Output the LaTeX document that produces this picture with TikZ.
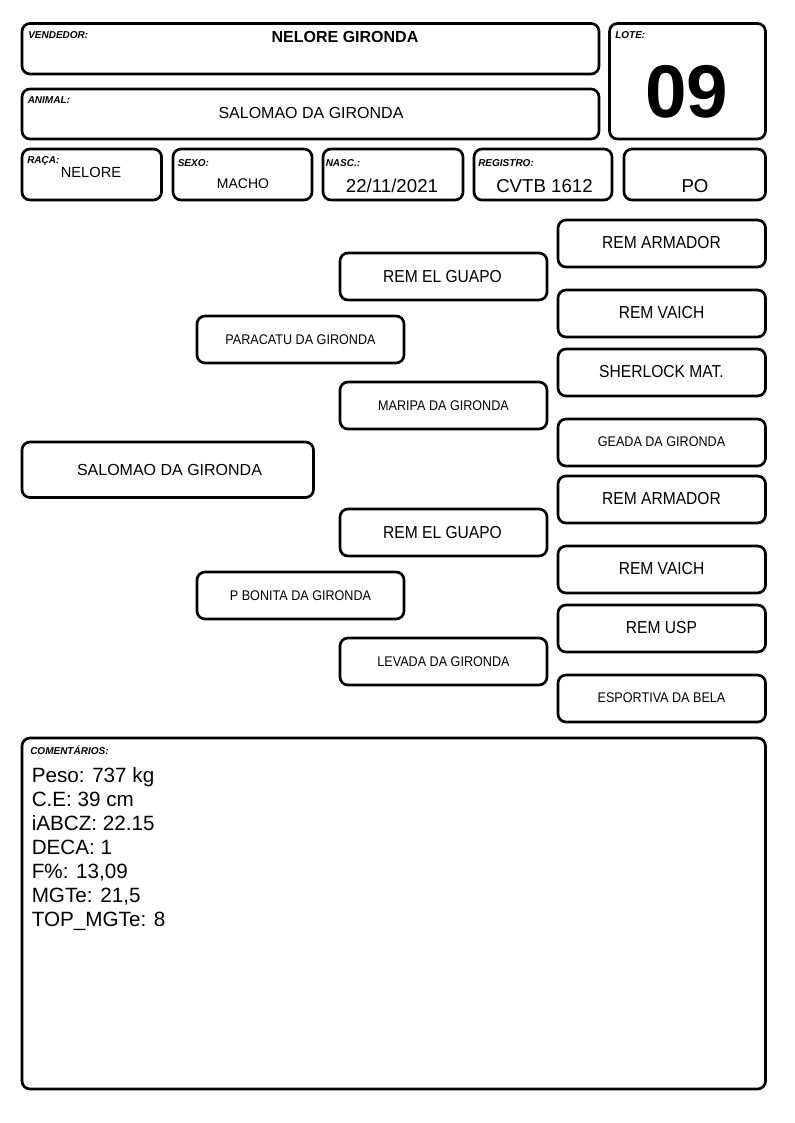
\documentclass[tikz,border=0pt]{standalone}
\usepackage{fontspec}
\setmainfont{Liberation Sans}
\newfontfamily\estreita[FakeStretch=0.9]{Liberation Sans}

\tikzset{
  caixa/.style={line width=2pt, rounded corners=6pt},
  rotulo/.style={anchor=north west, inner sep=0pt, font=\fontsize{7.5}{9}\selectfont\bfseries\itshape},
  grande/.style={font=\estreita\fontsize{13}{15}\selectfont},
  pequeno/.style={font=\estreita\fontsize{10.5}{12}\selectfont},
}

\begin{document}
\begin{tikzpicture}[x=0.75pt, y=-0.75pt]
  \useasboundingbox (0,0) rectangle (794,1123);

  % cabecalho
  \draw[caixa] (22,23.5) rectangle (599,74);
  \node[rotulo] (vendedor) at (28,31.5) {VENDEDOR:};
  \node[font=\fontsize{12}{14}\selectfont\bfseries] (nomevendedor) at (345,37) {NELORE GIRONDA};

  \draw[caixa] (22,89) rectangle (599,139);
  \node[rotulo] (animallabel) at (27.5,96.5) {ANIMAL:};
  \node[font=\fontsize{12}{14}\selectfont] (nomeanimal) at (311,113) {SALOMAO DA GIRONDA};

  \draw[caixa] (609.5,23.5) rectangle (765.5,139);
  \node[rotulo] (lote) at (615,31.5) {LOTE:};
  \node[font=\fontsize{56}{60}\selectfont\bfseries] (numlote) at (687,92) {09};

  % dados
  \draw[caixa] (22,149) rectangle (161.5,200);
  \node[rotulo] (raca) at (27,156.5) {RAÇA:};
  \node[font=\fontsize{11}{13}\selectfont] (valraca) at (91,172.5) {NELORE};

  \draw[caixa] (173,149) rectangle (312,200);
  \node[rotulo] (sexo) at (177.5,159) {SEXO:};
  \node[font=\fontsize{10.5}{12}\selectfont] (valsexo) at (243,184) {MACHO};

  \draw[caixa] (323,149) rectangle (463,200);
  \node[rotulo] (nasc) at (325.5,159) {NASC.:};
  \node[font=\fontsize{14}{16}\selectfont] (valnasc) at (392,186) {22/11/2021};

  \draw[caixa] (474,149) rectangle (612,200);
  \node[rotulo] (registro) at (478,159) {REGISTRO:};
  \node[font=\fontsize{14}{16}\selectfont] (valregistro) at (544.5,186) {CVTB 1612};

  \draw[caixa] (624,149) rectangle (765.5,200);
  \node[font=\fontsize{14}{16}\selectfont] (valpo) at (695,186.5) {PO};

  % genealogia
  \draw[caixa] (22,442) rectangle (313.5,497.5);
  \node[font=\fontsize{12}{14}\selectfont] (animal) at (169.5,470) {SALOMAO DA GIRONDA};

  \begin{scope}
    \draw[caixa] (197,316) rectangle (404,363);
    \node[pequeno] (pai) at (300.5,339.5) {PARACATU DA GIRONDA};
    \draw[caixa] (340,253) rectangle (547,300);
    \node[grande] (avopat) at (442.5,276.5) {REM EL GUAPO};
    \draw[caixa] (340,382) rectangle (547,429);
    \node[pequeno] (avapat) at (443.5,405.5) {MARIPA DA GIRONDA};
    \foreach \y/\nome/\estilo [count=\i] in {219/REM ARMADOR/grande, 289/REM VAICH/grande, 348/SHERLOCK MAT./grande, 418/GEADA DA GIRONDA/pequeno}
    {
      \draw[caixa] (558,\y+1) rectangle (765.5,\y+48);
      \node[\estilo] (bisavopat\i) at (661.5,\y+24) {\nome};
    }
  \end{scope}

  \begin{scope}[shift={(0,256)}]
    \draw[caixa] (197,316) rectangle (404,363);
    \node[pequeno] (mae) at (300.5,339.5) {P BONITA DA GIRONDA};
    \draw[caixa] (340,253) rectangle (547,300);
    \node[grande] (avomat) at (442.5,276.5) {REM EL GUAPO};
    \draw[caixa] (340,382) rectangle (547,429);
    \node[pequeno] (avamat) at (443.5,405.5) {LEVADA DA GIRONDA};
    \foreach \y/\nome/\estilo [count=\i] in {219/REM ARMADOR/grande, 289/REM VAICH/grande, 348/REM USP/grande, 418/ESPORTIVA DA BELA/pequeno}
    {
      \draw[caixa] (558,\y+1) rectangle (765.5,\y+48);
      \node[\estilo] (bisavomat\i) at (661.5,\y+24) {\nome};
    }
  \end{scope}

  % comentarios
  \draw[caixa] (22,738) rectangle (765.5,1089);
  \node[rotulo] (comentarios) at (30,745) {COMENTÁRIOS:};
  \node[anchor=north west, inner sep=0pt, align=left, font=\fontsize{15.5}{18}\selectfont] (obs) at (31.5,767)
    {Peso: 737 kg\\C.E: 39 cm\\iABCZ: 22.15\\DECA: 1\\F\%: 13,09\\MGTe: 21,5\\TOP\_MGTe: 8};

\end{tikzpicture}
\end{document}
